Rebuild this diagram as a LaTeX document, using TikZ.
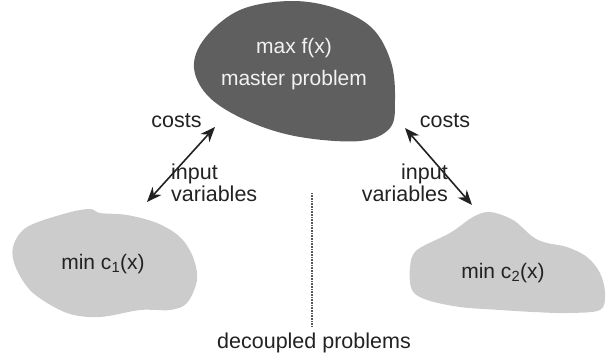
\documentclass[tikz,border=0pt]{standalone}
\usepackage{fontspec}
\setmainfont{Liberation Sans}
\usetikzlibrary{arrows.meta}
\definecolor{darkblob}{HTML}{5F5F5F}
\definecolor{lightblob}{HTML}{CCCCCC}
\definecolor{txt}{HTML}{222222}
\begin{document}
\begin{tikzpicture}[x=1pt,y=-1pt,
  lbl/.style={font=\fontsize{21.5}{18.5}\selectfont, text=txt, inner sep=0pt},
  blobtxt/.style={font=\fontsize{21}{21}\selectfont, text=txt, inner sep=0pt},
  twoway/.style={{Stealth[length=15pt,width=12pt]}-{Stealth[length=15pt,width=12pt]}, line width=1.6pt, draw=txt}]
\useasboundingbox (0,0) rectangle (614,361);
% master blob
\fill[darkblob] plot[smooth cycle, tension=0.6] coordinates {
 (290,1) (240,10) (205,38) (194,68) (210,98) (250,122) (300,137) (360,141)
 (390,128) (395,100) (391,62) (372,28) (335,8)};
\node[font=\fontsize{21}{21}\selectfont, text=white!95!black, align=center, inner sep=0pt] (master) at (294,64)
  {max f(x)\\[11pt]master problem};
% left blob
\fill[lightblob] plot[smooth cycle, tension=0.55] coordinates {
 (13,247) (27,227) (67,213) (90,209) (100,213) (127,215) (157,223) (180,237)
 (193,257) (197,280) (187,303) (170,310) (140,310) (100,317) (67,313) (33,293) (16,268)};
\node[blobtxt] (c1) at (103,264) {min c\textsubscript{1}(x)};
% right blob
\fill[lightblob] plot[smooth cycle, tension=0.55] coordinates {
 (417,250) (450,233) (473,217) (490,212) (513,220) (533,237) (547,243) (567,247)
 (587,257) (600,273) (605,293) (600,310) (567,313) (533,312) (500,310) (460,307)
 (427,300) (412,290) (410,267)};
\node[blobtxt] (c2) at (503,273) {min c\textsubscript{2}(x)};
% arrows
\coordinate (la) at (147,202);
\coordinate (lb) at (215,127);
\coordinate (ra) at (405,128);
\coordinate (rb) at (472,205);
\draw[twoway] (la) -- (lb);
\draw[twoway] (ra) -- (rb);
% labels
\node[lbl, anchor=base] (costL) at (176.5,128) {costs};
\node[lbl, anchor=base] (costR) at (445,128) {costs};
\node[lbl, anchor=base west, align=left] (inL) at (171,201) {input\\variables};
\node[lbl, anchor=base east, align=right] (inR) at (448,201) {input\\variables};
% separator
\coordinate (s1) at (312,193);
\coordinate (s2) at (312,327);
\draw[gray!70!black, line width=1.6pt, dash pattern=on 0.8pt off 0.8pt] (s1) -- (s2);
\node[lbl, anchor=base] (dec) at (314,348) {decoupled problems};
\end{tikzpicture}
\end{document}
